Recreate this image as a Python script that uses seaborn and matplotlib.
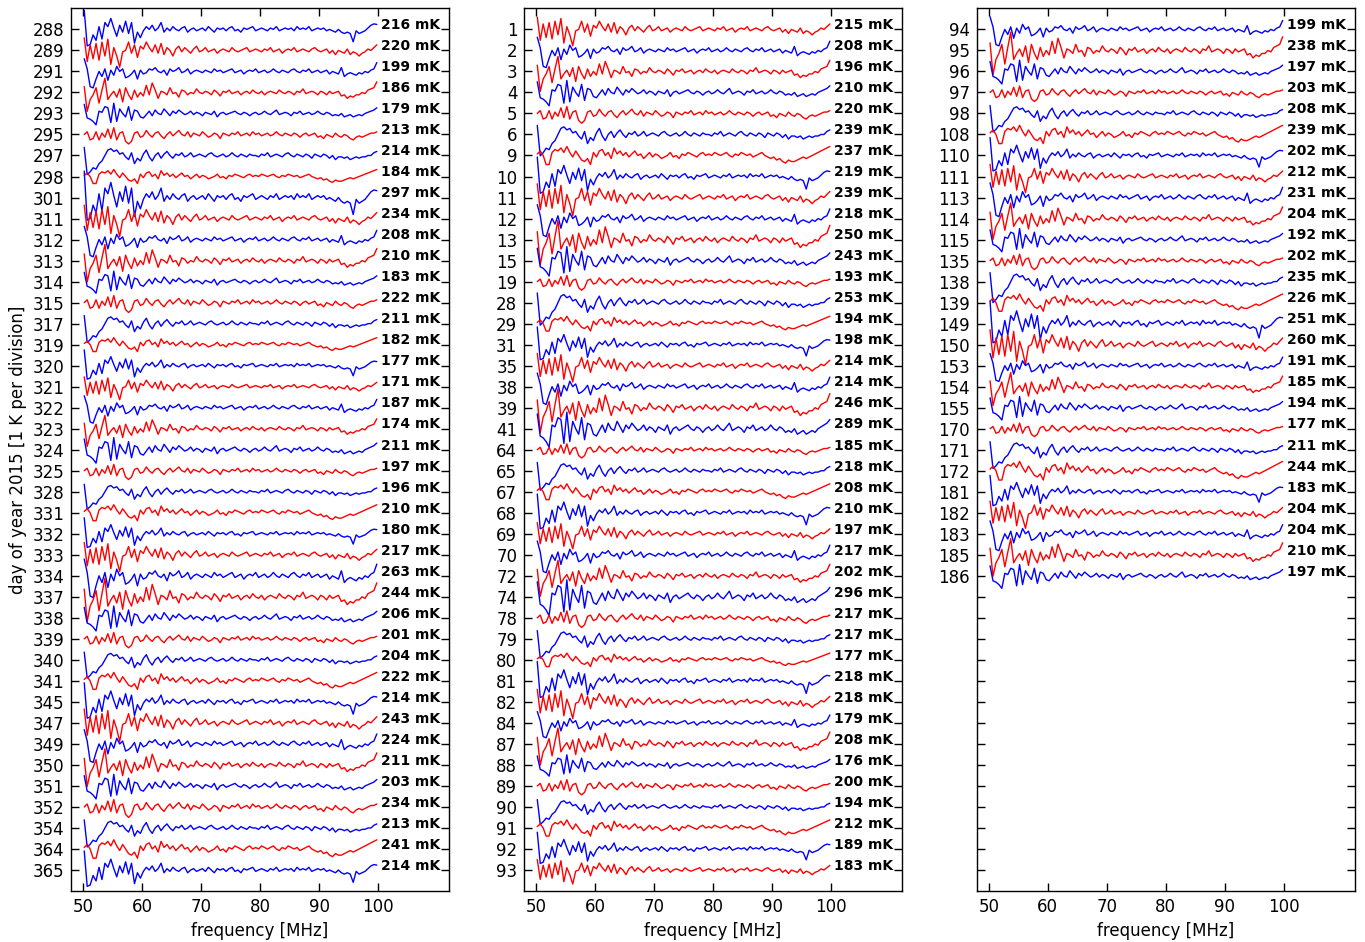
import numpy as np
import pandas as pd
import matplotlib
matplotlib.use("Agg")
import matplotlib.pyplot as plt
import seaborn as sns

sns.set_style("ticks")
plt.rcParams["font.family"] = ["DejaVu Sans"]
plt.rcParams["text.color"] = "black"
plt.rcParams["axes.labelcolor"] = "black"
plt.rcParams["xtick.color"] = "black"
plt.rcParams["ytick.color"] = "black"

# days (tick labels) and rms labels for each panel
days_1 = [288, 289, 291, 292, 293, 295, 297, 298, 301, 311, 312, 313, 314, 315,
          317, 319, 320, 321, 322, 323, 324, 325, 328, 331, 332, 333, 334, 337,
          338, 339, 340, 341, 345, 347, 349, 350, 351, 352, 354, 364, 365]
rms_1 = [216, 220, 199, 186, 179, 213, 214, 184, 297, 234, 208, 210, 183, 222,
         211, 182, 177, 171, 187, 174, 211, 197, 196, 210, 180, 217, 263, 244,
         206, 201, 204, 222, 214, 243, 224, 211, 203, 234, 213, 241, 214]

days_2 = [1, 2, 3, 4, 5, 6, 9, 10, 11, 12, 13, 15, 19, 28, 29, 31, 35, 38, 39, 41,
          64, 65, 67, 68, 69, 70, 72, 74, 78, 79, 80, 81, 82, 84, 87, 88, 89, 90,
          91, 92, 93]
rms_2 = [215, 208, 196, 210, 220, 239, 237, 219, 239, 218, 250, 243, 193, 253,
         194, 198, 214, 214, 246, 289, 185, 218, 208, 210, 197, 217, 202, 296,
         217, 217, 177, 218, 218, 179, 208, 176, 200, 194, 212, 189, 183]

days_3 = [94, 95, 96, 97, 98, 108, 110, 111, 113, 114, 115, 135, 138, 139, 149,
          150, 153, 154, 155, 170, 171, 172, 181, 182, 183, 185, 186]
rms_3 = [199, 238, 197, 203, 208, 239, 202, 212, 231, 204, 192, 202, 235, 226,
         251, 260, 191, 185, 194, 177, 211, 244, 183, 204, 204, 210, 197]

# residual shapes, in units of 0.01 K, 0.5 MHz steps
shape_0 = [70, -60, -55, -20, -40, 10, -35, 25, 10, 40, 5, -25, 15, -10, 30, -15, 25, -50, -10, -30,
           -5, 10, 0, 15, -5, 5, 25, -10, 5, -5, 10, 0, -5, 5, 10, -10, 0, 5, -5, 0,
           5, -5, 10, 0, -10, 5, 0, 5, -5, 5, 10, -5, 0, -10, 5, 0, 5, 10, -5, 0,
           5, 0, -5, 5, 0, 10, -5, 0, 5, 0, 5, -5, 10, 0, 5, 0, 10, -5, 0, 5,
           0, 5, -5, 0, -5, -10, 0, -10, -15, -10, -15, -45, -5, -15, -10, -5, 5, 15, 20, 18]
shape_1 = [25, -80, -30, -10, 20, -45, 10, 60, -30, -10, 5, -20, 15, -40, 20, -10, -30, 10, -20, 0,
           -15, 30, -10, 40, 10, -25, 5, 0, -10, 20, -5, 0, -20, 10, 5, -10, 0, -5, 15, 0,
           -5, 5, 0, -10, 10, 0, -15, 5, 0, 10, -5, 0, 5, -10, 0, 5, -5, 10, 0, -5,
           5, -10, 0, 5, 0, -5, 10, 0, -5, 5, 0, -10, 5, 0, 15, -5, 0, 5, 0, -10,
           5, 0, -10, 5, -5, 0, 5, -15, -10, -25, -15, -20, -10, -10, 0, -5, 10, 15, 20, 45]
shape_2 = [30, -70, -60, -45, -50, -30, -20, 0, 20, 25, 15, 20, 5, 10, -5, -15, 10, -30, -10, -20,
           5, 20, -5, -20, 0, 10, -10, 5, 15, 0, -10, 5, 0, 10, -5, 0, 10, -5, 0, 5,
           0, -5, 5, 10, 0, -5, 0, 5, -5, 0, 10, 0, -5, 5, 0, -5, 5, 0, 0, -5,
           5, 0, 10, -5, 0, 5, 0, -5, 5, 10, 0, -5, 5, 0, -5, 5, 0, -10, 5, 0,
           -5, 5, 0, -10, 0, -15, -5, -5, -10, -5, -15, -10, -5, -10, -5, -5, 0, 0, 10, 15]
shape_3 = [45, -40, 20, -30, 25, -35, 30, -20, 40, -50, 10, -20, -60, -5, 0, 30, -10, 20, -25, 15,
           5, 30, 10, -5, 20, -10, 25, -15, 10, 0, -20, 5, 15, -5, 10, 0, -10, 5, 15, -5,
           0, 10, -5, 0, 5, -10, 0, 5, 0, -5, 10, 0, -5, 0, 5, 10, -5, 0, 5, 0,
           -5, 5, 0, 10, -5, 0, 5, -10, 0, 5, 0, 10, -5, 0, 5, 0, -5, 5, 10, 0,
           -5, 0, 5, -10, 0, -15, 0, -5, -10, 5, -15, -5, -10, -20, -10, -5, 5, 0, 10, 20]
shape_4 = [40, -20, -25, -35, -50, 10, 5, 30, 25, -40, 45, -35, 20, 0, -15, 30, -30, 15, 10, -15,
           -20, -5, 10, -10, 15, 0, -5, 20, 5, -10, 10, 0, 15, 5, -5, 0, 10, -5, 5, 0,
           -10, 5, 0, -5, 10, -15, 0, 5, -5, 0, 5, 10, 0, -5, 5, 0, -10, 0, 5, -5,
           0, 10, 0, -5, 5, 15, -5, 0, 5, 0, -10, 5, 0, 10, -5, 0, 5, -5, 0, 10,
           0, -5, 5, 0, -10, -5, -10, 0, -15, -10, -5, -15, -10, -5, -10, 0, 5, 10, 15, 25]
shape_5 = [5, 15, 0, -30, -30, 10, 20, 15, 25, 10, 30, 10, -5, 15, 0, -15, -20, -10, -30, 10,
           -5, 15, 20, 0, 10, -10, 25, 5, 15, 0, 10, -5, 5, 15, 0, 5, -10, 0, 10, -5,
           5, 0, -10, -5, 0, 10, -5, 0, -10, 5, 0, 10, 5, 0, -5, 5, 10, 0, 5, 0,
           10, 5, 0, 5, 10, 0, -5, 5, 0, 10, 5, 0, 5, -5, 0, 5, 10, 0, -5, -10,
           -5, -15, -10, -20, -25, -15, -20, -20, -15, -10, -5, -10, -5, 0, 5, 10, 15, 20, 25, 30]
shape_6 = [50, 10, -60, -65, -30, 0, -20, 10, -35, 5, -15, 20, 0, 10, -25, -20, -10, 5, -30, 5,
           -10, -5, 10, 5, 15, 0, -5, 5, -15, 10, 0, 5, 15, -5, 0, 10, -10, 0, 5, 0,
           -5, 5, 0, -5, 10, 0, 5, -5, 0, 5, 10, -5, 0, 5, -10, 0, 5, 0, 10, -5,
           0, 5, -5, 0, 10, 0, -5, 5, 0, -5, 5, 10, 0, -5, 5, 0, 10, -5, 0, 5,
           -5, 0, 5, -10, 0, -5, -10, 15, -20, -10, -5, -10, -15, -5, -10, 0, -5, 5, 10, 35]
shape_7 = [0, 10, -20, -15, 10, -20, 5, -10, 20, -15, 25, -20, 5, 10, -25, -35, -25, 5, 10, -10,
           -5, 15, 0, -10, 5, 10, -5, -15, 0, 10, -5, 5, 15, 0, -5, 10, -10, 5, 0, -5,
           10, 0, -10, -5, 5, 0, -15, 5, 0, -5, 5, 0, 10, -5, 0, 5, -5, 10, 0, 5,
           -5, 0, 5, -5, 0, 10, 0, -5, 5, 0, -5, 5, 0, -10, 0, 5, -5, 0, 5, -10,
           -5, -15, 0, -5, -10, 5, -5, -10, 0, -5, -15, -20, -10, -5, -10, -5, 0, 5, 5, 10]
shapes = [shape_0, shape_1, shape_2, shape_3, shape_4, shape_5, shape_6, shape_7]

freq = np.linspace(50.2, 99.8, 100)

fig = plt.figure(figsize=(13.65, 9.42), dpi=100)
panels = [(days_1, rms_1), (days_2, rms_2), (days_3, rms_3)]
lefts = [0.0522, 0.3841, 0.7158]
n_rows = 41

count = 0
for p, (days, rms) in enumerate(panels):
    ax = fig.add_axes([lefts[p], 0.0541, 0.2766, 0.937])
    for i, (d, r) in enumerate(zip(days, rms)):
        shape = np.array(shapes[(count * 3) % 8]) / 100.0 * r / 165.0
        color = "b" if count % 2 == 0 else "r"
        df = pd.DataFrame({"freq": freq, "T": -i + shape})
        sns.lineplot(data=df, x="freq", y="T", color=color, linewidth=1.0,
                     estimator=None, sort=False, ax=ax)
        ax.text(100.5, -i + 0.2, f"{r} mK", fontsize=10, fontweight="bold",
                ha="left", va="center", color="black")
        count += 1

    ax.set_xlim(48, 112)
    ax.set_ylim(-n_rows, 1)
    ax.set_xticks([50, 60, 70, 80, 90, 100])
    ax.set_yticks(-np.arange(n_rows))
    ax.set_yticklabels([str(d) for d in days] + [""] * (n_rows - len(days)))
    ax.tick_params(direction="in", top=True, right=True, length=5.5, width=1,
                   labelsize=12, pad=5, colors="black")
    for s in ax.spines.values():
        s.set_visible(True)
        s.set_color("black")
        s.set_linewidth(1.0)
    ax.set_xlabel("frequency [MHz]", fontsize=12, color="black")
    if p == 0:
        ax.set_ylabel("day of year 2015 [1 K per division]", fontsize=12, color="black")
    else:
        ax.set_ylabel("")

fig.savefig("out.png", dpi=100)
